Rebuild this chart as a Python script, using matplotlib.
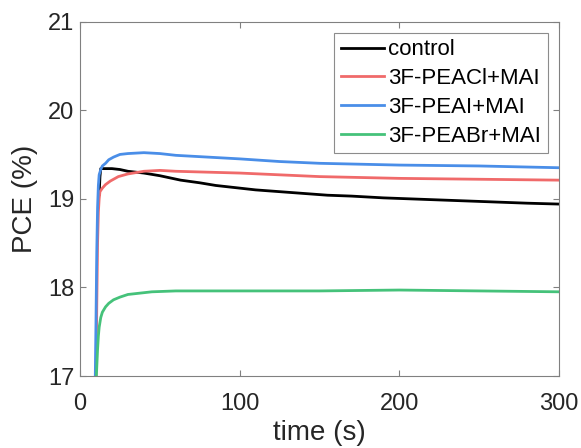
import numpy as np
import matplotlib
matplotlib.use("Agg")
import matplotlib.pyplot as plt

plt.rcParams['font.family'] = ['Liberation Sans', 'DejaVu Sans']

# dữ liệu (thời gian s, PCE %)
t_control = [12.0, 12.5, 13.0, 15, 20, 25, 30, 40, 50, 63, 75, 85, 100, 110, 125, 140, 155, 170, 190, 205, 220, 235, 250, 265, 280, 300]
pce_control = [19.05, 19.25, 19.34, 19.34, 19.34, 19.33, 19.31, 19.29, 19.26, 19.21, 19.18, 19.15, 19.12, 19.10, 19.08, 19.06, 19.04, 19.03, 19.01, 19.00, 18.99, 18.98, 18.97, 18.96, 18.95, 18.94]

t_cl = [10.0, 10.5, 11.0, 11.5, 12.0, 12.5, 14, 16, 19, 24, 30, 40, 50, 60, 80, 100, 125, 150, 175, 200, 250, 300]
pce_cl = [16.9, 17.8, 18.5, 18.85, 19.0, 19.08, 19.12, 19.16, 19.20, 19.25, 19.28, 19.31, 19.32, 19.31, 19.30, 19.29, 19.27, 19.25, 19.24, 19.23, 19.22, 19.21]

t_i = [9.5, 10.0, 10.5, 11.0, 11.5, 12.0, 13.0, 14, 16, 18, 21, 25, 30, 40, 50, 60, 80, 100, 125, 150, 175, 200, 250, 300]
pce_i = [16.9, 17.6, 18.4, 18.9, 19.15, 19.27, 19.33, 19.37, 19.40, 19.44, 19.47, 19.50, 19.51, 19.52, 19.51, 19.49, 19.47, 19.45, 19.42, 19.40, 19.39, 19.38, 19.37, 19.35]

t_br = [10.0, 10.5, 11.0, 11.5, 12.0, 13.0, 14, 16, 18, 21, 25, 30, 35, 45, 60, 80, 100, 150, 200, 250, 300]
pce_br = [16.9, 17.1, 17.3, 17.45, 17.55, 17.66, 17.72, 17.78, 17.82, 17.86, 17.89, 17.92, 17.93, 17.95, 17.96, 17.96, 17.96, 17.96, 17.97, 17.96, 17.95]

labels = ['control', '3F-PEACl+MAI', '3F-PEAI+MAI', '3F-PEABr+MAI']
colors = ['black', '#f06a6a', '#4a8ee8', '#45c27a']

fig = plt.figure(figsize=(5.81, 4.48), dpi=100)
ax = fig.add_axes([0.1377, 0.1607, 0.8245, 0.7913])

series = [(t_control, pce_control), (t_cl, pce_cl), (t_i, pce_i), (t_br, pce_br)]
for (t, p), lab, c in zip(series, labels, colors):
    ax.plot(t, p, color=c, lw=2.0, label=lab)

ax.set_xlim(0, 300)
ax.set_ylim(17, 21)
ax.set_xticks([0, 100, 200, 300])
ax.set_yticks([17, 18, 19, 20, 21])

for s in ax.spines.values():
    s.set_color('#808080')
    s.set_linewidth(0.8)
ax.tick_params(direction='in', length=4, width=0.8, color='#808080', labelcolor='#262626',
               labelsize=17, top=True, right=True, pad=4)
ax.tick_params(axis='x', pad=12.5)

ax.set_xlabel('time (s)', fontsize=20, color='#262626', labelpad=3.5)
ax.set_ylabel('PCE (%)', fontsize=20, color='#262626', labelpad=7)

leg = ax.legend(loc='upper right', fontsize=16, frameon=True, fancybox=False,
                edgecolor='#707070', handlelength=1.95, handletextpad=0.2,
                borderpad=0.3, labelspacing=0.35, borderaxespad=0.5)
leg.get_frame().set_linewidth(0.8)

fig.savefig('out.png', dpi=100)
